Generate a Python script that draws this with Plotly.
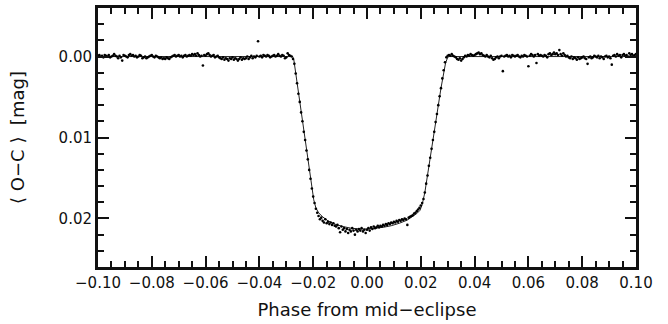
import numpy as np
import plotly.graph_objects as go

# Phase grid of the binned observations (step 0.0005 from -0.10 to 0.10)
phase_start, phase_stop, n_points = -0.10, 0.10, 401

# Observed <O-C> values in units of 1e-4 mag (positive = fainter / deeper)
oot_left = [
    -1, -2, 0, -1, 1, -2, -1, 0, -2, 1,
    0, -1, -3, -1, 0, 2, -1, 1, 5, -2,
    -1, 0, 1, -2, -3, -1, -2, 0, -1, 1,
    0, -2, -1, 2, 1, 0, 2, 1, 0, -1,
    -2, 0, 1, -1, 0, 1, 2, 1, 3, 2,
    3, 1, 2, 3, 1, 0, -1, -2, 0, -1,
    -2, 0, -1, 1, -1, -2, 0, -1, -2, -1,
    -3, -2, -3, -1, -4, -2, 0, -1, 11, -2,
    -1, -3, -4, -2, 0, -1, -2, 1, 0, -1,
    1, 2, 3, 1, 4, 2, 3, 5, 2, 3,
    1, 4, 2, 3, 5, 3, 1, 4, 2, 3,
    2, 0, 3, 1, -1, 2, 0, 1, -1, -19,
    0, -1, 1, -2, -1, 0, -2, -1, 1, 0,
    -1, -2, 0, -1, -3, -1, 0, -2, -1, 2,
    1, -4, -2, -1, 0,
]
ingress = [3, 9, 21, 33, 46, 56, 69, 80, 93, 103, 116, 127, 140, 151, 163, 173, 181]
bottom = [
    188, 193, 197, 201, 199, 203, 205, 201, 206, 204,
    207, 205, 208, 206, 209, 210, 208, 212, 217, 210,
    214, 212, 216, 213, 218, 214, 216, 212, 215, 220,
    214, 216, 213, 215, 212, 216, 214, 218, 214, 212,
    215, 211, 213, 210, 212, 211, 209, 211, 209, 210,
    208, 209, 207, 208, 206, 207, 205, 206, 204, 205,
    203, 204, 202, 203, 201, 202, 200, 201, 208, 199,
    198, 197, 196, 194, 193, 191, 189, 187, 184, 181,
]
egress = [176, 168, 157, 147, 135, 125, 114, 103, 93, 81, 71, 60, 49, 39, 27, 17, 7, 1, -1]
oot_right = [
    -2, -1, -3, -1, 0, 1, 3, 4, 2,
    5, 3, 1, -1, 0, -2, -1, -3, -2, -1,
    -2, -3, -4, -5, -3, -4, -2, -1, 0, -2,
    0, 1, -1, 2, 4, 3, 1, 0, 2, 0,
    -1, 18, 0, -1, -2, 0, -1, 1, -2, -1,
    0, -1, -2, 0, 1, -1, 0, -2, -1, 0,
    12, -1, -3, -2, 0, -2, 8, -3, -1, -2,
    -1, 0, -2, -1, 1, -3, -4, -2, -3, -5,
    -3, -4, -2, -8, -3, -1, -4, -2, 0, -1,
    1, 2, 0, 3, 1, 2, 4, 1, 3, 2,
    1, 0, 2, 3, 9, 1, 0, 2, 1, -1,
    0, 1, -1, 2, 0, 1, 3, 0, -1, 1,
    0, 2, 10, -1, -2, 0, -3, -1, -2, 1,
    -2, -3, -1, -2, 0, -4, -2, -3, -1, -2, -3,
]

# Model light curve (read from the drawn fit)
model_phase = [-0.100, -0.0285, -0.0276, -0.0272, -0.0260, -0.0240, -0.0220, -0.0205,
               -0.0198, -0.0190, -0.0180, -0.0165, -0.0145, -0.0120, -0.0090, -0.0060,
               -0.0030, 0.0000, 0.0030, 0.0060, 0.0090, 0.0120, 0.0150, 0.0170, 0.0185,
               0.0197, 0.0205, 0.0215, 0.0235, 0.0255, 0.0275, 0.0292, 0.0300, 0.0305, 0.100]
model_mag = [0.0, 0.0, 0.0000, 0.0004, 0.0033, 0.0080, 0.0127, 0.0162,
             0.0177, 0.0187, 0.0193, 0.0198, 0.0203, 0.0207, 0.0210, 0.0212,
             0.0213, 0.0213, 0.0212, 0.0211, 0.0209, 0.0206, 0.0202, 0.0198, 0.0194,
             0.0190, 0.0183, 0.0168, 0.0124, 0.0081, 0.0039, 0.0008, 0.0001, 0.0, 0.0]

x_range = [-0.10, 0.10]
y_range = [0.026, -0.006]

phase = np.linspace(phase_start, phase_stop, n_points)
obs = np.array(oot_left + ingress + bottom + egress + oot_right, dtype=float) * 1e-4

fig = go.Figure()
fig.add_trace(go.Scatter(x=model_phase, y=model_mag, mode="lines",
                         line=dict(color="#222222", width=1), hoverinfo="skip"))
fig.add_trace(go.Scatter(x=phase, y=obs, mode="markers",
                         marker=dict(color="black", size=2.6)))

font = "DejaVu Sans, Arial, sans-serif"
ink = "#111111"
tick_common = dict(ticks="inside", ticklen=11, tickwidth=2, tickcolor=ink,
                   showline=True, linewidth=3, linecolor=ink, mirror="allticks",
                   showgrid=False, zeroline=False)
fig.update_layout(
    width=668, height=324,
    margin=dict(l=98, r=32, t=5, b=57),
    paper_bgcolor="white", plot_bgcolor="white",
    showlegend=False,
    xaxis=dict(range=x_range, dtick=0.02, tickformat=".2f",
               minor=dict(dtick=0.005, ticks="inside", ticklen=6, tickwidth=2, tickcolor=ink),
               tickfont=dict(family=font, size=15, color=ink),
               title=dict(text="Phase from mid\u2212eclipse", font=dict(family=font, size=18, color=ink),
                          standoff=13),
               **tick_common),
    yaxis=dict(range=y_range, dtick=0.01, tickformat=".2f",
               minor=dict(dtick=0.002, ticks="inside", ticklen=6, tickwidth=2, tickcolor=ink),
               tickfont=dict(family=font, size=15, color=ink),
               title=dict(text="\u27e8 O\u2212C \u27e9  [mag]", font=dict(family=font, size=18, color=ink),
                          standoff=30),
               **tick_common),
)
fig.write_html("out.html")
